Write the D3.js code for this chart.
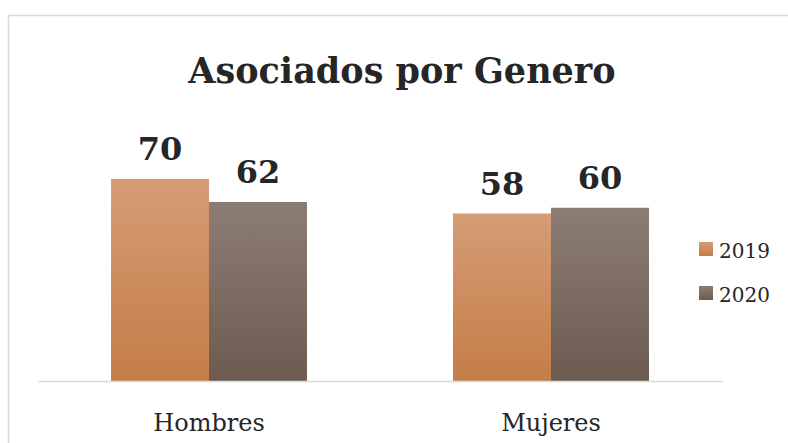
<!DOCTYPE html>
<html>
<head>
<meta charset="utf-8">
<script src="https://cdn.jsdelivr.net/npm/d3@7"></script>
<style>
  body { margin: 0; background: #fff; }
  text { font-family: "DejaVu Serif", serif; fill: #262626; }
</style>
</head>
<body>
<script>
(function () {

    //chart data
    var categories = ["Hombres", "Mujeres"];
    var seriesNames = ["2019", "2020"];
    var values2019 = [70, 58];
    var values2020 = [62, 60];
    var chartTitle = "Asociados por Genero";

    var width = 788,
        height = 443;

    var svg = d3.select("body")
        .append("svg")
        .attr("width", width)
        .attr("height", height);

    //gradients for the two series
    var defs = svg.append("defs");
    var gradColors = [["#d69c76", "#c47d47"], ["#8c7d74", "#6d5b50"]];
    seriesNames.forEach(function (s, i) {
        var g = defs.append("linearGradient")
            .attr("id", "grad" + i)
            .attr("x1", 0).attr("y1", 0)
            .attr("x2", 0).attr("y2", 1);
        g.append("stop").attr("offset", "0%").attr("stop-color", gradColors[i][0]);
        g.append("stop").attr("offset", "100%").attr("stop-color", gradColors[i][1]);
    });

    //chart area border
    svg.append("rect")
        .attr("x", 8.5)
        .attr("y", 15.5)
        .attr("width", 800)
        .attr("height", 450)
        .attr("fill", "#fff")
        .attr("stroke", "#d9d9d9")
        .attr("stroke-width", 1.5);

    //title
    svg.append("text")
        .attr("x", 402)
        .attr("y", 83)
        .attr("text-anchor", "middle")
        .style("font-size", "35px")
        .style("font-weight", "bold")
        .text(chartTitle);

    //scales
    var x0 = d3.scaleBand()
        .domain(categories)
        .range([38, 722])
        .paddingInner(0.427)
        .paddingOuter(0.2135);

    var x1 = d3.scaleBand()
        .domain(seriesNames)
        .range([0, x0.bandwidth()]);

    var y = d3.scaleLinear()
        .domain([0, 80])
        .range([381, 150]);

    var rows = categories.map(function (c, i) {
        return { cat: c, vals: [values2019[i], values2020[i]] };
    });

    var groups = svg.selectAll(".group")
        .data(rows)
        .enter()
        .append("g")
        .attr("class", "group")
        .attr("transform", function (d) {
            return "translate(" + x0(d.cat) + ",0)";
        });

    groups.selectAll(".bar")
        .data(function (d) {
            return d.vals.map(function (v, i) { return { s: seriesNames[i], v: v, i: i }; });
        })
        .enter()
        .append("rect")
        .attr("class", "bar")
        .attr("x", function (d) { return x1(d.s); })
        .attr("width", x1.bandwidth())
        .attr("y", function (d) { return y(d.v); })
        .attr("height", function (d) { return y(0) - y(d.v); })
        .attr("fill", function (d) { return "url(#grad" + d.i + ")"; });

    //value labels
    groups.selectAll(".num")
        .data(function (d) {
            return d.vals.map(function (v, i) { return { s: seriesNames[i], v: v }; });
        })
        .enter()
        .append("text")
        .attr("class", "num")
        .attr("text-anchor", "middle")
        .attr("x", function (d) { return x1(d.s) + x1.bandwidth() / 2; })
        .attr("y", function (d) { return y(d.v) - 19; })
        .style("font-size", "32px")
        .style("font-weight", "bold")
        .text(function (d) { return d.v; });

    //horizontal axis
    var xAxis = d3.axisBottom(x0).tickSize(0).tickPadding(0);
    var axis = svg.append("g")
        .attr("transform", "translate(0," + y(0) + ")")
        .call(xAxis);
    axis.select(".domain")
        .attr("stroke", "#d9d9d9")
        .attr("stroke-width", 1.5);
    axis.selectAll("text")
        .attr("dy", null)
        .attr("y", 50)
        .style("font-size", "24px")
        .style("font-family", "DejaVu Serif, serif")
        .attr("fill", "#262626");

    //legend
    var legend = svg.selectAll(".legend")
        .data(seriesNames)
        .enter()
        .append("g")
        .attr("class", "legend")
        .attr("transform", function (d, i) {
            return "translate(699," + (242 + i * 44) + ")";
        });

    legend.append("rect")
        .attr("width", 14)
        .attr("height", 14)
        .attr("fill", function (d, i) { return "url(#grad" + i + ")"; });

    legend.append("text")
        .attr("x", 20)
        .attr("y", 16)
        .style("font-size", "20px")
        .text(function (d) { return d; });

})();
</script>
</body>
</html>
